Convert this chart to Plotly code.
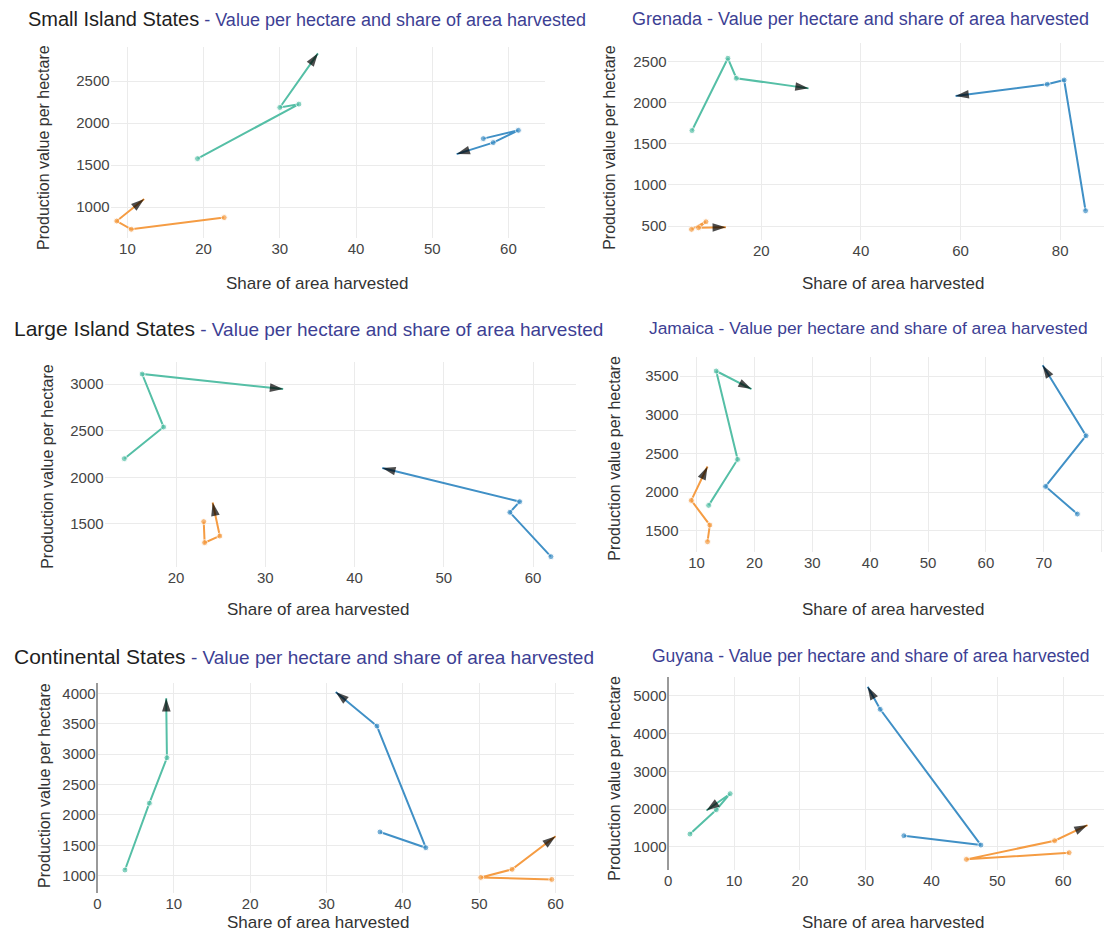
import plotly.graph_objects as go

# the page body adds an 8px margin, so the figure is a little smaller than the window
OFF = 8
W, H = 1112 - 2 * OFF, 942 - 2 * OFF

TEAL = "#55bfa6"
BLUE = "#4090c6"
ORANGE = "#f59c43"
TITLE_BLUE = "#3d3f94"

# Small Island States
small_teal_x = [19.2, 32.5, 30.0, 35.0]
small_teal_y = [1576, 2225, 2185, 2830]
small_blue_x = [56.7, 61.3, 58.0, 53.2]
small_blue_y = [1814, 1913, 1767, 1630]
small_orange_x = [22.7, 10.5, 8.6, 12.2]
small_orange_y = [874, 735, 833, 1095]

# Grenada
gren_teal_x = [6.1, 13.3, 15.0, 29.5]
gren_teal_y = [1662, 2541, 2298, 2175]
gren_blue_x = [85.1, 80.8, 77.4, 59.0]
gren_blue_y = [686, 2277, 2225, 2083]
gren_orange_x = [6.0, 8.9, 7.4, 12.9]
gren_orange_y = [460, 552, 479, 484]

# Large Island States
large_teal_x = [14.2, 18.6, 16.2, 32.0]
large_teal_y = [2200, 2539, 3107, 2946]
large_blue_x = [62.0, 57.4, 58.5, 43.1]
large_blue_y = [1150, 1625, 1739, 2100]
large_orange_x = [23.1, 23.2, 24.9, 24.1]
large_orange_y = [1525, 1300, 1371, 1730]

# Jamaica
jam_teal_x = [12.1, 17.1, 13.4, 19.5]
jam_teal_y = [1828, 2422, 3565, 3332]
jam_blue_x = [75.8, 70.3, 77.3, 69.8]
jam_blue_y = [1716, 2073, 2728, 3640]
jam_orange_x = [11.9, 12.3, 9.1, 11.9]
jam_orange_y = [1358, 1573, 1892, 2330]

# Continental States
cont_teal_x = [3.6, 6.8, 9.1, 9.0]
cont_teal_y = [1094, 2193, 2940, 3920]
cont_blue_x = [37.0, 43.0, 36.6, 31.2]
cont_blue_y = [1720, 1461, 3461, 4022]
cont_orange_x = [59.5, 50.2, 54.3, 60.0]
cont_orange_y = [939, 972, 1105, 1650]

# Guyana
guy_teal_x = [3.3, 7.3, 9.4, 5.8]
guy_teal_y = [1336, 1982, 2407, 1960]
guy_blue_x = [35.8, 47.5, 32.2, 30.3]
guy_blue_y = [1292, 1044, 4646, 5248]
guy_orange_x = [60.9, 45.3, 58.7, 63.7]
guy_orange_y = [841, 664, 1159, 1575]

SUB = " - Value per hectare and share of area harvested"

panels = [
    dict(black="Small Island States", blue=SUB,
         series=[(small_teal_x, small_teal_y, TEAL), (small_blue_x, small_blue_y, BLUE),
                 (small_orange_x, small_orange_y, ORANGE)],
         box=(107, 543, 47, 238), xr=[7.8, 64.8], yr=[631, 2905], dx=10, dy=500,
         title=(22, 19), tsize=18, ytx=40, ytc=147, xtc=314, xty=283),
    dict(black="", blue="Grenada" + SUB,
         series=[(gren_teal_x, gren_teal_y, TEAL), (gren_blue_x, gren_blue_y, BLUE),
                 (gren_orange_x, gren_orange_y, ORANGE)],
         box=(666, 1112, 43, 240), xr=[1.2, 88.8], yr=[330, 2727], dx=20, dy=500,
         title=(628, 19), tsize=18, ytx=608, ytc=147, xtc=892, xty=283),
    dict(black="Large Island States", blue=SUB,
         series=[(large_teal_x, large_teal_y, TEAL), (large_blue_x, large_blue_y, BLUE),
                 (large_orange_x, large_orange_y, ORANGE)],
         box=(101, 574, 362, 567), xr=[12.0, 64.8], yr=[1039, 3236], dx=10, dy=500,
         title=(5, 328), tsize=19, ytx=43, ytc=466, xtc=315, xty=609),
    dict(black="", blue="Jamaica" + SUB,
         series=[(jam_teal_x, jam_teal_y, TEAL), (jam_blue_x, jam_blue_y, BLUE),
                 (jam_orange_x, jam_orange_y, ORANGE)],
         box=(678, 1112, 357, 552), xr=[7.07, 80.4], yr=[1225, 3746], dx=10, dy=500,
         title=(645, 328), tsize=17.4, ytx=612, ytc=458, xtc=892, xty=609),
    dict(black="Continental States", blue=SUB,
         series=[(cont_teal_x, cont_teal_y, TEAL), (cont_blue_x, cont_blue_y, BLUE),
                 (cont_orange_x, cont_orange_y, ORANGE)],
         box=(93, 572, 683, 893), xr=[-0.1, 62.4], yr=[716, 4169], dx=10, dy=500,
         title=(5, 656), tsize=19, ytx=40, ytc=785, xtc=315, xty=922),
    dict(black="", blue="Guyana" + SUB,
         series=[(guy_teal_x, guy_teal_y, TEAL), (guy_blue_x, guy_blue_y, BLUE),
                 (guy_orange_x, guy_orange_y, ORANGE)],
         box=(666, 1112, 677, 870), xr=[-0.1, 66.2], yr=[382, 5504], dx=10, dy=1000,
         title=(648, 656), tsize=17.5, ytx=612, ytc=778, xtc=892, xty=922),
]


def fx(px):
    return min(max((px - OFF) / W, 0), 1)


def fy(py):
    return min(max(1 - (py - OFF) / H, 0), 1)


fig = go.Figure()
annotations = []
FONT = "Liberation Sans, Arial, sans-serif"

for i, p in enumerate(panels):
    n = "" if i == 0 else str(i + 1)
    x0, x1, y0, y1 = p["box"]
    for xs, ys, col in p["series"]:
        k = len(xs)
        fig.add_trace(go.Scatter(
            x=xs, y=ys, xaxis="x" + n, yaxis="y" + n, mode="lines+markers",
            line=dict(color=col, width=2),
            marker=dict(size=[6] * (k - 1) + [0], color=col),
            showlegend=False, hoverinfo="skip"))
        # black arrowhead on the last point, turned along the last segment
        fig.add_trace(go.Scatter(
            x=xs[-2:], y=ys[-2:], xaxis="x" + n, yaxis="y" + n, mode="markers",
            marker=dict(symbol=["circle", "arrow"], size=[0, 14], color="#000000",
                        angleref="previous", line=dict(width=0)),
            showlegend=False, hoverinfo="skip"))
    axis_common = dict(showgrid=True, gridcolor="#ebebeb", gridwidth=1,
                       tickfont=dict(family=FONT, size=15, color="#444"),
                       showline=False, ticks="")
    fig.update_layout(**{
        "xaxis" + n: dict(domain=[fx(x0), fx(x1)], range=p["xr"], dtick=p["dx"],
                          anchor="y" + n, zeroline=True, zerolinecolor="#9a9a9a",
                          zerolinewidth=2, **axis_common),
        "yaxis" + n: dict(domain=[fy(y1), fy(y0)], range=p["yr"], dtick=p["dy"],
                          anchor="x" + n, zeroline=False, **axis_common),
    })
    if p["black"]:
        text = ("<span style='font-size:%gpx;color:#1e1e1e'>%s</span>%s"
                % (p["tsize"] + 2, p["black"], p["blue"]))
    else:
        text = p["blue"]
    annotations.append(dict(text=text, x=fx(p["title"][0]), y=fy(p["title"][1]),
                            xref="paper", yref="paper", xanchor="left", yanchor="middle",
                            showarrow=False,
                            font=dict(family=FONT, size=p["tsize"], color=TITLE_BLUE)))
    annotations.append(dict(text="Production value per hectare", textangle=-90,
                            x=fx(p["ytx"]), y=fy(p["ytc"]), xref="paper", yref="paper",
                            xanchor="center", yanchor="middle", showarrow=False,
                            font=dict(family=FONT, size=16, color="#333")))
    annotations.append(dict(text="Share of area harvested",
                            x=fx(p["xtc"]), y=fy(p["xty"]), xref="paper", yref="paper",
                            xanchor="center", yanchor="middle", showarrow=False,
                            font=dict(family=FONT, size=17, color="#333")))

fig.update_layout(width=W, height=H, margin=dict(l=0, r=0, t=0, b=0),
                  paper_bgcolor="white", plot_bgcolor="white",
                  annotations=annotations, font=dict(family=FONT))

fig.write_html("out.html")
